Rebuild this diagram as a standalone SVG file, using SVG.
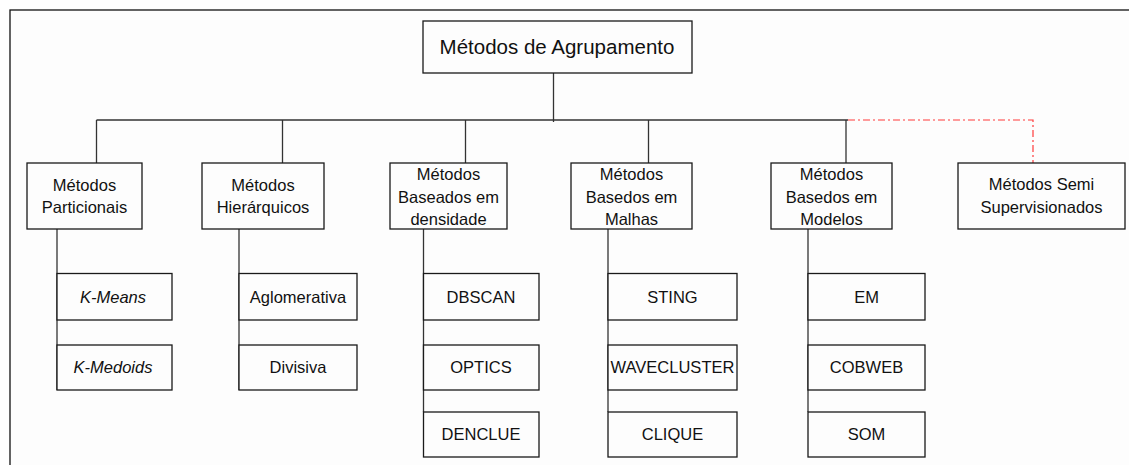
<svg xmlns="http://www.w3.org/2000/svg" width="1129" height="465" viewBox="0 0 1129 465">
<style>
.box{fill:#fdfdfd;stroke:#1a1a1a;stroke-width:1.3}
.ln{stroke:#333;stroke-width:1.3;fill:none}
.red{stroke:#ff3b3b;stroke-width:1.2;fill:none;stroke-dasharray:7,3,2,3}
text{font-family:"Liberation Sans",Arial,sans-serif;font-size:16.5px;fill:#111;text-anchor:middle}
.it{font-style:italic}
.title{font-size:20.5px}
</style>
<rect x="0" y="0" width="1129" height="465" fill="#ffffff"/>
<rect x="10" y="10" width="1140" height="470" fill="#fdfdfd" stroke="#111" stroke-width="1.3"/>
<g id="connectors">
<line class="ln" x1="553.5" y1="73" x2="553.5" y2="122"/>
<line class="ln" x1="96.5" y1="120" x2="848" y2="120"/>
<line class="ln" x1="96.5" y1="120" x2="96.5" y2="163"/>
<line class="ln" x1="282.5" y1="120" x2="282.5" y2="163"/>
<line class="ln" x1="465.5" y1="120" x2="465.5" y2="163"/>
<line class="ln" x1="648.5" y1="120" x2="648.5" y2="163"/>
<line class="ln" x1="846" y1="120" x2="846" y2="163"/>
<path class="red" d="M848,120 H1033 V163"/>
<line class="ln" x1="57" y1="229" x2="57" y2="390"/>
<line class="ln" x1="239" y1="229" x2="239" y2="390"/>
<line class="ln" x1="423.5" y1="229" x2="423.5" y2="412"/>
<line class="ln" x1="608" y1="229" x2="608" y2="412"/>
<line class="ln" x1="808" y1="229" x2="808" y2="412"/>
</g>
<g id="root"><rect class="box" x="423" y="21" width="269" height="52"/><text class="title" x="557" y="54">Métodos de Agrupamento</text></g>
<g id="particionais"><rect class="box" x="27" y="163" width="115" height="66"/><text x="84.5" y="191">Métodos</text><text x="84.5" y="213">Particionais</text></g>
<g id="hierarquicos"><rect class="box" x="202" y="163" width="122" height="66"/><text x="263" y="191">Métodos</text><text x="263" y="213">Hierárquicos</text></g>
<g id="densidade"><rect class="box" x="390" y="163" width="117" height="66"/><text x="448.5" y="180">Métodos</text><text x="448.5" y="203">Baseados em</text><text x="448.5" y="225">densidade</text></g>
<g id="malhas"><rect class="box" x="571" y="163" width="121" height="66"/><text x="631.5" y="180">Métodos</text><text x="631.5" y="203">Basedos em</text><text x="631.5" y="225">Malhas</text></g>
<g id="modelos"><rect class="box" x="771" y="163" width="121" height="66"/><text x="831.5" y="180">Métodos</text><text x="831.5" y="203">Basedos em</text><text x="831.5" y="225">Modelos</text></g>
<g id="semi"><rect class="box" x="958" y="163" width="167" height="66"/><text x="1041.5" y="190">Métodos Semi</text><text x="1041.5" y="212.5">Supervisionados</text></g>
<g id="kmeans"><rect class="box" x="57" y="273.5" width="115" height="46.5"/><text class="it" x="113" y="302.5">K-Means</text></g>
<g id="kmedoids"><rect class="box" x="57" y="345" width="115" height="45"/><text class="it" x="113" y="373">K-Medoids</text></g>
<g id="aglomerativa"><rect class="box" x="239" y="273.5" width="118" height="46.5"/><text x="298" y="302.5">Aglomerativa</text></g>
<g id="divisiva"><rect class="box" x="239" y="345" width="118" height="45"/><text x="298" y="373">Divisiva</text></g>
<g id="dbscan"><rect class="box" x="423.5" y="273.5" width="115.5" height="46.5"/><text x="481" y="302.5">DBSCAN</text></g>
<g id="optics"><rect class="box" x="423.5" y="345" width="115.5" height="45"/><text x="481" y="373">OPTICS</text></g>
<g id="denclue"><rect class="box" x="423.5" y="412" width="115.5" height="45"/><text x="481" y="440">DENCLUE</text></g>
<g id="sting"><rect class="box" x="608" y="273.5" width="129" height="46.5"/><text x="672.5" y="302.5">STING</text></g>
<g id="wavecluster"><rect class="box" x="608" y="345" width="129" height="45"/><text x="672.5" y="373">WAVECLUSTER</text></g>
<g id="clique"><rect class="box" x="608" y="412" width="129" height="45"/><text x="672.5" y="440">CLIQUE</text></g>
<g id="em"><rect class="box" x="808" y="273.5" width="117" height="46.5"/><text x="866.5" y="302.5">EM</text></g>
<g id="cobweb"><rect class="box" x="808" y="345" width="117" height="45"/><text x="866.5" y="373">COBWEB</text></g>
<g id="som"><rect class="box" x="808" y="412" width="117" height="45"/><text x="866.5" y="440">SOM</text></g>
</svg>
